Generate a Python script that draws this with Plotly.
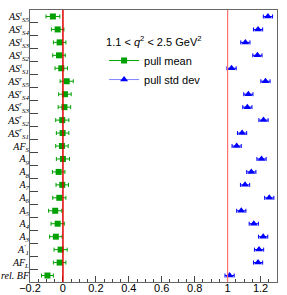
import plotly.graph_objects as go

labels = [
    "<i>AS</i><sup><i>i</i></sup><sub><i>S5</i></sub>",
    "<i>AS</i><sup><i>i</i></sup><sub><i>S4</i></sub>",
    "<i>AS</i><sup><i>i</i></sup><sub><i>S3</i></sub>",
    "<i>AS</i><sup><i>i</i></sup><sub><i>S2</i></sub>",
    "<i>AS</i><sup><i>i</i></sup><sub><i>S1</i></sub>",
    "<i>AS</i><sup><i>r</i></sup><sub><i>S5</i></sub>",
    "<i>AS</i><sup><i>r</i></sup><sub><i>S4</i></sub>",
    "<i>AS</i><sup><i>r</i></sup><sub><i>S3</i></sub>",
    "<i>AS</i><sup><i>r</i></sup><sub><i>S2</i></sub>",
    "<i>AS</i><sup><i>r</i></sup><sub><i>S1</i></sub>",
    "<i>AF</i><sub><i>S</i></sub>",
    "<i>A</i><sub><i>9</i></sub>",
    "<i>A</i><sub><i>8</i></sub>",
    "<i>A</i><sub><i>7</i></sub>",
    "<i>A</i><sub><i>6</i></sub>",
    "<i>A</i><sub><i>5</i></sub>",
    "<i>A</i><sub><i>4</i></sub>",
    "<i>A</i><sub><i>3</i></sub>",
    "<i>A</i><sup><i>'</i></sup><sub><i>1</i></sub>",
    "<i>AF</i><sub><i>L</i></sub>",
    "<i>rel. BF</i>",
]

pull_mean = [-0.061, -0.032, -0.020, -0.024, -0.010, 0.023, 0.012, 0.009, -0.004, -0.002,
             -0.006, 0.000, -0.026, -0.004, -0.022, -0.047, -0.032, -0.043, -0.014, -0.020, -0.094]
pull_mean_err = [0.042, 0.038, 0.038, 0.038, 0.038, 0.040, 0.038, 0.038, 0.040, 0.038,
                 0.038, 0.040, 0.038, 0.038, 0.040, 0.040, 0.040, 0.038, 0.040, 0.038, 0.036]

pull_std = [1.245, 1.185, 1.108, 1.181, 1.024, 1.230, 1.126, 1.120, 1.218, 1.088,
            1.055, 1.206, 1.144, 1.106, 1.253, 1.083, 1.159, 1.216, 1.191, 1.185, 1.012]
pull_std_err = [0.028] * 21

legend_title = "1.1 &lt; <i>q</i><sup>2</sup> &lt; 2.5 GeV<sup>2</sup>"

GREEN = "#00a000"
BLUE = "#0000ff"

fig = go.Figure()

fig.add_trace(go.Scatter(
    x=pull_mean, y=labels, mode="markers",
    marker=dict(symbol="square", size=6, color=GREEN),
    error_x=dict(type="data", array=pull_mean_err, color=GREEN, thickness=1, width=2),
    showlegend=False,
))
fig.add_trace(go.Scatter(
    x=pull_std, y=labels, mode="markers",
    marker=dict(symbol="triangle-up", size=7, color=BLUE),
    error_x=dict(type="data", array=pull_std_err, color=BLUE, thickness=1, width=2),
    showlegend=False,
))
# legend entries
fig.add_trace(go.Scatter(
    x=[None], y=[None], mode="lines+markers", name="pull mean",
    marker=dict(symbol="square", size=6, color=GREEN), line=dict(color=GREEN, width=1),
))
fig.add_trace(go.Scatter(
    x=[None], y=[None], mode="lines+markers", name="pull std dev",
    marker=dict(symbol="triangle-up", size=7, color=BLUE), line=dict(color="#8080ff", width=1),
))

fig.add_shape(type="line", xref="x", yref="paper", x0=0, x1=0, y0=0, y1=1,
              line=dict(color="#e00000", width=1.5))
fig.add_shape(type="line", xref="x", yref="paper", x0=1, x1=1, y0=0, y1=1,
              line=dict(color="#ff7070", width=1.2))

fig.update_layout(
    width=287, height=295,
    margin=dict(l=30, r=10, t=10, b=13, autoexpand=False),
    paper_bgcolor="white", plot_bgcolor="white",
    font=dict(family="Liberation Sans, Arial", size=11, color="black"),
    legend=dict(
        x=0.30, y=0.92, xanchor="left", yanchor="top",
        bgcolor="rgba(0,0,0,0)",
        title=dict(text=legend_title, font=dict(size=11)),
        font=dict(size=11),
        itemwidth=30, tracegroupgap=0,
    ),
)

fig.update_xaxes(
    range=[-0.2, 1.3], tick0=0, dtick=0.2, tickformat="~g",
    ticks="inside", ticklen=6, tickcolor="#444",
    minor=dict(ticks="inside", ticklen=3, dtick=0.05, tickcolor="#444"),
    showline=True, linecolor="#666", linewidth=1, mirror=True,
    showgrid=False, zeroline=False, automargin=False,
    ticklabelstandoff=-4,
    tickfont=dict(family="Liberation Sans, Arial", size=11),
)
fig.update_yaxes(
    type="category", categoryorder="array", categoryarray=labels,
    tickmode="array", tickvals=labels, ticktext=labels,
    range=[20.5, -0.5],
    tickson="boundaries", ticks="inside", ticklen=8, tickcolor="#444",
    showline=True, linecolor="#666", linewidth=1, mirror=True,
    showgrid=False, zeroline=False, automargin=False,
    ticklabelstandoff=-2,
    tickfont=dict(family="Liberation Serif, Times New Roman", size=10),
)

fig.write_html("out.html", config={"displayModeBar": False},
               post_script="document.body.style.margin='0px';")
